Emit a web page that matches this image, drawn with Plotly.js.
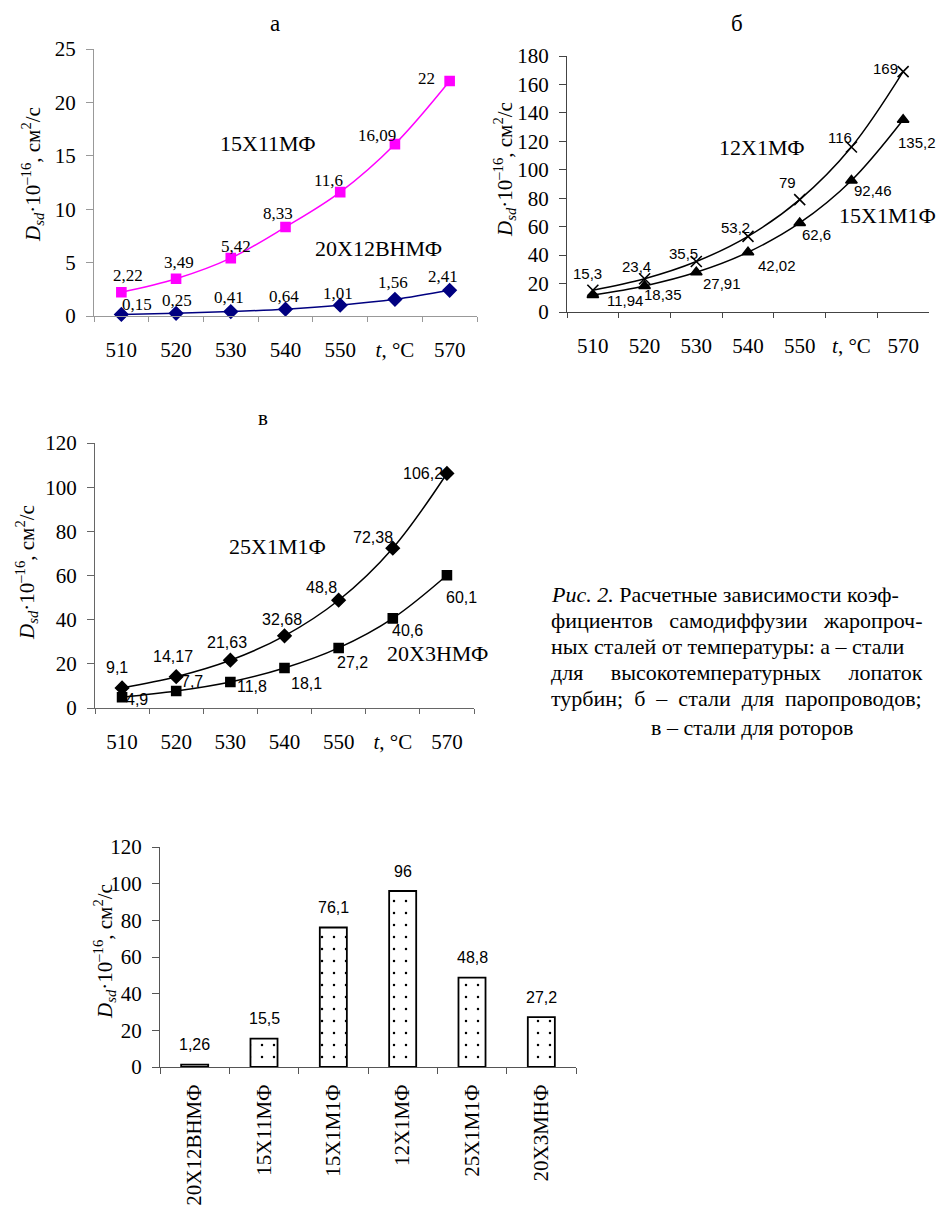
<!DOCTYPE html>
<html><head><meta charset="utf-8">
<script src="https://cdn.plot.ly/plotly-3.0.1.min.js"></script>
<style>html,body{margin:0;padding:0;background:#fff}</style>
</head><body><div id="chart" style="width:937px;height:1207px"></div>
<script>
// ---------- data ----------
const temps = ['510','520','530','540','550','560','570'];
const tempTickText = ['510','520','530','540','550','<i>t</i>, °C','570'];
const a_15X11MF = [2.22, 3.49, 5.42, 8.33, 11.6, 16.09, 22];
const a_20X12VNMF = [0.15, 0.25, 0.41, 0.64, 1.01, 1.56, 2.41];
const b_12X1MF = [15.3, 23.4, 35.5, 53.2, 79, 116, 169];
const b_15X1M1F = [11.94, 18.35, 27.91, 42.02, 62.6, 92.46, 135.2];
const v_25X1M1F = [9.1, 14.17, 21.63, 32.68, 48.8, 72.38, 106.2];
const v_20X3NMF = [4.9, 7.7, 11.8, 18.1, 27.2, 40.6, 60.1];
const steels = ['20Х12ВНМФ','15Х11МФ','15Х1М1Ф','12Х1МФ','25Х1М1Ф','20Х3МНФ'];
const steelValues = [1.26, 15.5, 76.1, 96, 48.8, 27.2];
const seriesNames = {a1:'15Х11МФ', a2:'20Х12ВНМФ', b1:'12Х1МФ', b2:'15Х1М1Ф', v1:'25Х1М1Ф', v2:'20Х3НМФ'};
const panelTitles = ['а','б','в'];
const yTitle = '<i>D<sub>sd</sub></i>·10<sup>–16</sup>, см<sup>2</sup>/с';
const NB = '\u00A0';
const captionLines = [
  '<i>Рис. 2.</i> Расчетные зависимости коэф-',
  'фициентов' + NB + NB + ' самодиффузии' + NB + NB + ' жаропроч-',
  'ных сталей от температуры: а – стали',
  'для' + NB + NB + NB + NB + ' высокотемпературных' + NB + NB + NB + NB + ' лопаток',
  'турбин; ' + NB + 'б ' + NB + '– ' + NB + 'стали ' + NB + 'для ' + NB + 'паропроводов;'
];
const captionLast = 'в – стали для роторов';

// ---------- styling ----------
const W = 937, H = 1207;
const PX = x => x / W, PY = y => 1 - y / H;
const SERIF = '"Liberation Serif", "Times New Roman", serif';
const SANS = '"Liberation Sans", Arial, sans-serif';

// label offsets (px): [dx, dy] with dy positive downward
const offA1 = [[7,-17],[3,-16],[5,-12],[-8,-14],[-12,-12],[-18,-9],[-23,-3]];
const offA2 = [[16,-10],[1,-13],[-2,-14],[-2,-13],[-2,-12],[-2,-17],[-7,-14]];
const offB1 = [[-5,-17],[-8,-12],[-13,-8],[-13,-9],[-12,-17],[-11,-10],[-18,-3]];
const offB2 = [[32,5],[18,9],[26,11],[29,13],[17,12],[22,10],[14,23]];
const offV1 = [[-5,-20],[-3,-20],[-3,-18],[-3,-16],[-17,-13],[-20,-11],[-24,0]];
const offV2 = [[15,2],[16,-10],[22,5],[22,15],[14,15],[15,12],[15,22]];

const fmt = v => String(v).replace('.', ',');

function xcat(domain, color, anchor) {
  return {domain: domain, anchor: anchor, type:'category', range:[-0.5, 6.5],
    tickvals: temps, ticktext: tempTickText, tickson:'boundaries',
    ticks:'outside', ticklen:5, tickcolor:color, linecolor:color, linewidth:1,
    showline:true, showgrid:false, zeroline:false,
    tickfont:{family:SERIF, size:21, color:'#000'}, ticklabelstandoff:15, fixedrange:true};
}
function yax(domain, max, dtick, color, anchor) {
  return {domain: domain, anchor: anchor, range:[0, max], dtick: dtick,
    ticks:'outside', ticklen:7, tickcolor:color, linecolor:color, linewidth:1,
    showline:true, showgrid:false, zeroline:false,
    tickfont:{family:SERIF, size:21, color:'#000'}, ticklabelstandoff:6, fixedrange:true};
}

function line(x, y, xa, ya, color, symbol, size) {
  return {type:'scatter', mode:'lines+markers', x:x, y:y, xaxis:xa, yaxis:ya,
    line:{color:color, width:1.5, shape:'spline', smoothing:1},
    marker:{symbol:symbol, size:size, color:color, line:{color:color, width:1.6}},
    cliponaxis:false, hoverinfo:'skip'};
}

const traces = [
  line(temps, a_15X11MF, 'x', 'y', '#FF00FF', 'square', 9),
  line(temps, a_20X12VNMF, 'x', 'y', '#000080', 'diamond', 10),
  line(temps, b_12X1MF, 'x2', 'y2', '#000000', 'x-thin-open', 11),
  line(temps, b_15X1M1F, 'x2', 'y2', '#000000', 'triangle-up', 10),
  line(temps, v_25X1M1F, 'x3', 'y3', '#000000', 'diamond', 10),
  line(temps, v_20X3NMF, 'x3', 'y3', '#000000', 'square', 9),
  {type:'bar', x: steels, y: steelValues, xaxis:'x4', yaxis:'y4', hoverinfo:'skip',
   marker:{color:'#ffffff', line:{color:'#000', width:1.8},
     pattern:{shape:'.', fillmode:'replace', fgcolor:'#000', bgcolor:'#fff', size:12, solidity:0.035}}}
];

const ann = [];
function labels(vals, xa, ya, offs, font) {
  // category axis: annotation x given as the category index of temps[i]
  vals.forEach((v, i) => ann.push({x: temps.indexOf(temps[i]), y: v, xref: xa, yref: ya, text: fmt(v),
    showarrow:false, xanchor:'center', yanchor:'middle',
    xshift: offs[i][0], yshift: -offs[i][1], font: font}));
}
labels(a_15X11MF, 'x', 'y', offA1, {family:SERIF, size:17, color:'#000'});
labels(a_20X12VNMF, 'x', 'y', offA2, {family:SERIF, size:17, color:'#000'});
labels(b_12X1MF, 'x2', 'y2', offB1, {family:SANS, size:15, color:'#000'});
labels(b_15X1M1F, 'x2', 'y2', offB2, {family:SANS, size:15, color:'#000'});
labels(v_25X1M1F, 'x3', 'y3', offV1, {family:SANS, size:16, color:'#000'});
labels(v_20X3NMF, 'x3', 'y3', offV2, {family:SANS, size:16, color:'#000'});
steelValues.forEach((v, i) => ann.push({x: i, y: v, xref:'x4', yref:'y4', text: fmt(v),
  showarrow:false, xanchor:'center', yanchor:'middle', yshift:20, font:{family:SANS, size:16, color:'#000'}}));

function paperText(text, x, y, size, opts) {
  ann.push(Object.assign({xref:'paper', yref:'paper', x: PX(x), y: PY(y), text: text, showarrow:false,
    xanchor:'center', yanchor:'middle', font:{family:SERIF, size:size, color:'#000'}}, opts || {}));
}
// panel titles
paperText(panelTitles[0], 275, 23, 23);
paperText(panelTitles[1], 737, 23, 23);
paperText(panelTitles[2], 263, 418, 21);
// y axis titles
paperText(yTitle, 32, 175, 21, {textangle:-90});
paperText(yTitle, 504, 170, 21, {textangle:-90});
paperText(yTitle, 26, 573, 21, {textangle:-90});
paperText(yTitle, 105, 952, 21, {textangle:-90});
// series names
paperText(seriesNames.a1, 268, 143, 22);
paperText(seriesNames.a2, 378, 248, 22);
paperText(seriesNames.b1, 762, 148, 22);
paperText(seriesNames.b2, 887, 215, 22);
paperText(seriesNames.v1, 277, 547, 22);
paperText(seriesNames.v2, 437, 653, 22);
// caption
const capY = [594, 620, 646, 672, 698];
captionLines.forEach((t, i) => paperText(t, 549, capY[i], 22, {xanchor:'left'}));
paperText(captionLast, 752, 727, 22);

const layout = {
  width: W, height: H, margin:{l:0, r:0, t:0, b:0},
  paper_bgcolor:'#fff', plot_bgcolor:'rgba(0,0,0,0)', showlegend:false, hovermode:false,
  bargap: 0.61,
  xaxis: xcat([PX(94), PX(477)], '#999999', 'y'),
  yaxis: yax([PY(316), PY(49)], 25, 5, '#999999', 'x'),
  xaxis2: xcat([PX(567), PX(929)], '#444444', 'y2'),
  yaxis2: yax([PY(312), PY(56)], 180, 20, '#444444', 'x2'),
  xaxis3: xcat([PX(95), PX(474)], '#666666', 'y3'),
  yaxis3: yax([PY(708), PY(443)], 120, 20, '#666666', 'x3'),
  xaxis4: {domain:[PX(160), PX(576)], anchor:'y4', type:'category', tickson:'boundaries',
    ticks:'outside', ticklen:6, tickcolor:'#555', linecolor:'#555', showline:true, showgrid:false, zeroline:false,
    tickangle:-90, tickfont:{family:SERIF, size:21, color:'#000'}, ticklabelstandoff:8, fixedrange:true},
  yaxis4: yax([PY(1067), PY(847)], 120, 20, '#555555', 'x4'),
  annotations: ann
};
Plotly.newPlot('chart', traces, layout, {staticPlot:true, displayModeBar:false});
</script>
</body></html>
